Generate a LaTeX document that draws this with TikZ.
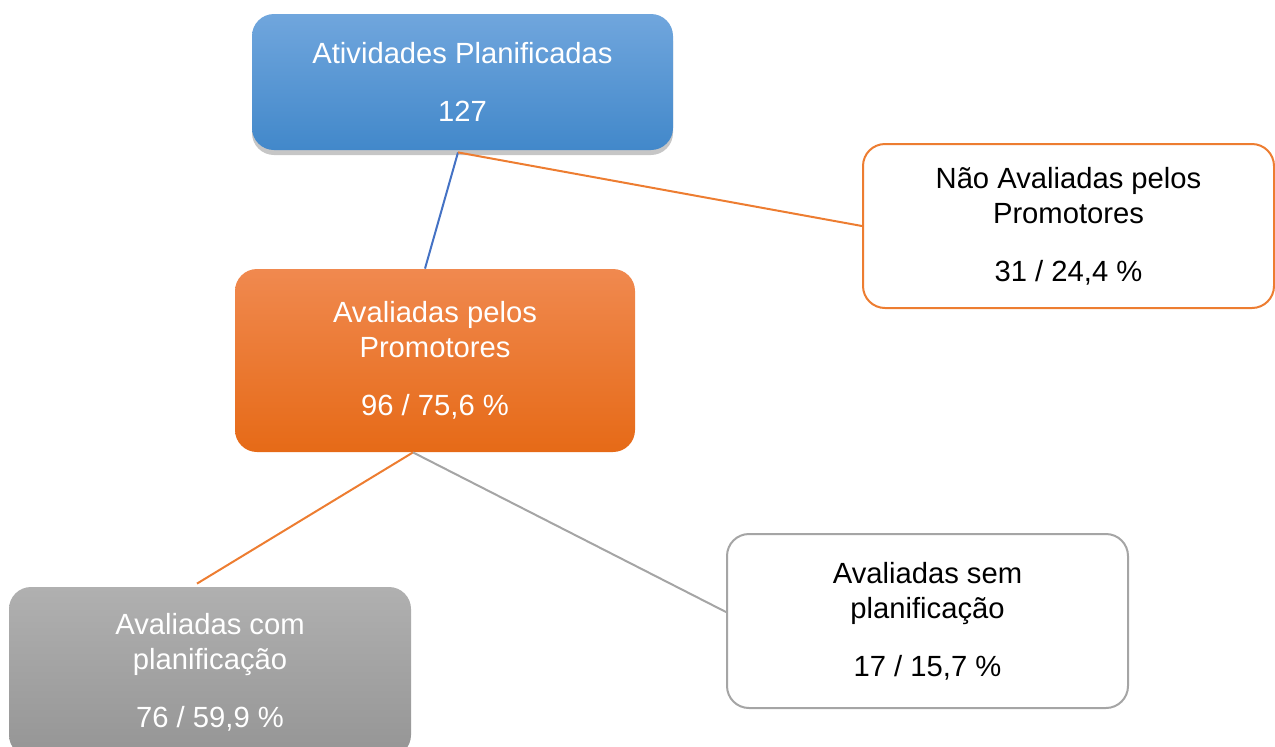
\documentclass[tikz,border=0pt]{standalone}
\usepackage{fontspec}
\setmainfont{Liberation Sans}
\usetikzlibrary{shadows}
\definecolor{azulA}{HTML}{70A6DD}
\definecolor{azulB}{HTML}{4288CA}
\definecolor{laranjaA}{HTML}{F0894F}
\definecolor{laranjaB}{HTML}{E66A17}
\definecolor{cinzaA}{HTML}{B0B0B0}
\definecolor{cinzaB}{HTML}{959595}
\definecolor{linhaAzul}{HTML}{4472C4}
\definecolor{linhaLaranja}{HTML}{ED7D31}
\definecolor{linhaCinza}{HTML}{A5A5A5}
\begin{document}
\begin{tikzpicture}[x=0.5pt,y=-0.5pt,
	caixa/.style={rectangle,rounded corners=11pt,align=center,inner sep=0pt,
		font=\fontsize{14.6}{17.5}\selectfont},
	cheia/.style={caixa,text=white},
	vazia/.style={caixa,fill=white,draw=#1,line width=1pt,text=black},
	ligacao/.style={draw=#1,line width=1pt}]
	\useasboundingbox (0,0) rectangle (1275,746);
	\node[cheia,top color=azulA,bottom color=azulB,minimum width=210.5pt,minimum height=68pt,
		drop shadow={shadow xshift=0pt,shadow yshift=-2.5pt,opacity=0.45}] (plan) at (462.5,82)
		{Atividades Planificadas\\[11.5pt]127};
	\node[vazia=linhaLaranja,minimum width=205.5pt,minimum height=82pt] (nao) at (1068.5,226)
		{Não Avaliadas pelos\\Promotores\\[11.5pt]31 / 24,4 \%};
	\node[cheia,top color=laranjaA,bottom color=laranjaB,minimum width=200pt,minimum height=91.5pt] (aval) at (435,360.5)
		{Avaliadas pelos\\Promotores\\[11.5pt]96 / 75,6 \%};
	\node[cheia,top color=cinzaA,bottom color=cinzaB,minimum width=201pt,minimum height=85pt] (com) at (210,672)
		{Avaliadas com\\planificação\\[11.5pt]76 / 59,9 \%};
	\node[vazia=linhaCinza,minimum width=200.5pt,minimum height=87pt] (sem) at (927.5,621)
		{Avaliadas sem\\planificação\\[11.5pt]17 / 15,7 \%};
	\coordinate (topo) at ([xshift=-2.25pt,yshift=-1pt]plan.south);
	\coordinate (meio) at ([xshift=-11pt]aval.south);
	\draw[ligacao=linhaAzul] (topo) -- ([xshift=-5pt]aval.north);
	\draw[ligacao=linhaLaranja] (topo) -- (nao.west);
	\draw[ligacao=linhaLaranja] (meio) -- ([xshift=-6.5pt,yshift=1.5pt]com.north);
	\draw[ligacao=linhaCinza] (meio) -- ([yshift=4.5pt]sem.west);
\end{tikzpicture}
\end{document}
